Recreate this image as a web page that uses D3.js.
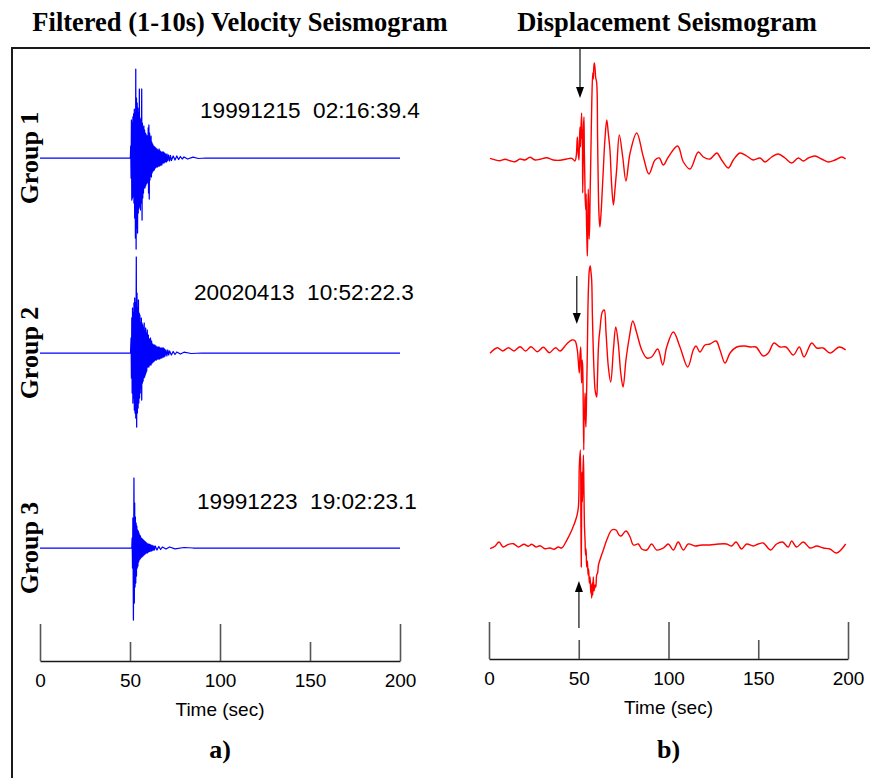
<!DOCTYPE html>
<html>
<head>
<meta charset="utf-8">
<script src="https://cdn.jsdelivr.net/npm/d3@7"></script>
<style>
  body { margin: 0; background: #fff; }
  svg { display: block; }
</style>
</head>
<body>
<svg id="fig" width="870" height="778"></svg>
<script>
// ---------- data ----------
const groupNames = ["Group 1", "Group 2", "Group 3"];
const eventLabels = ["19991215  02:16:39.4", "20020413  10:52:22.3", "19991223  19:02:23.1"];
const timeTicks = [0, 50, 100, 150, 200];
const panelTitles = ["Filtered (1-10s) Velocity Seismogram", "Displacement Seismogram"];
const panelLetters = ["a)", "b)"];
// P arrival picks (sec) on the displacement traces
const pArrival = [50.7, 48.9, 50.1];

// filtered velocity traces: [time (s), relative amplitude]
const velG1 = [
  [0,0],[50.2,0],[50.4,12],[50.6,-20],[50.8,38],[51.0,-42],[51.2,35],[51.4,-40],[51.6,41],[51.8,-38],
  [52.0,44],[52.2,-45],[52.4,49],[52.6,-60],[52.8,45],[53.0,-80],[53.2,89],[53.4,-91],[53.6,60],[53.8,-70],
  [54.0,55],[54.2,-75],[54.4,50],[54.6,-55],[54.8,45],[55.0,-50],[55.2,69],[55.4,-48],[55.6,40],[55.8,-52],
  [56.0,38],[56.2,-45],[56.5,69],[56.7,-62],[56.9,35],[57.1,-40],[57.3,30],[57.5,-35],[57.7,32],[57.9,-30],
  [58.1,28],[58.3,-30],[58.5,25],[58.7,-28],[58.9,24],[59.1,-26],[59.3,22],[59.5,-24],[59.7,22],[59.9,-25],
  [60.1,30],[60.3,-35],[60.5,33],[60.7,-41],[60.9,25],[61.1,-22],[61.3,20],[61.5,-18],[61.7,22],[61.9,-19],
  [62.1,16],[62.3,-15],[62.6,14],[62.9,-13],[63.2,12],[63.5,-12],[63.8,11],[64.1,-10],[64.4,10],[64.7,-9],
  [65.0,9],[65.3,-9],[65.6,8],[65.9,-8],[66.2,9],[66.5,-8],[66.8,7],[67.1,-7],[67.4,6],[67.7,-7],
  [68.0,6],[68.3,-5],[68.6,6],[68.9,-5],[69.2,5],[69.5,-4],[69.8,4],[70.2,-4],[70.6,4],[71.0,-3],
  [71.5,3],[72.0,-3],[72.5,2.5],[73.0,-2.5],[74,2],[75,-2],[76,2],[77,-1.5],[78,1.5],[79,-1],
  [80,1],[82,-1],[85,0.8],[88,-0.5],[92,0],[200,0]
];
const velG2 = [
  [0,0],[50.3,0],[50.6,15],[50.8,-25],[51.0,35],[51.2,-40],[51.4,45],[51.6,-50],[51.8,40],[52.0,-45],
  [52.2,50],[52.4,-57],[52.6,55],[52.8,-60],[53.0,50],[53.2,-65],[53.5,96],[53.7,-74],[53.9,60],[54.1,-60],
  [54.3,45],[54.5,-55],[54.7,53],[54.9,-50],[55.1,40],[55.3,-45],[55.5,38],[55.7,-40],[55.9,30],[56.1,-35],
  [56.3,35],[56.5,-47],[56.7,30],[56.9,-30],[57.1,28],[57.3,-28],[57.5,25],[57.7,-25],[57.9,30],[58.1,-24],
  [58.3,22],[58.5,-22],[58.7,25],[58.9,-20],[59.1,20],[59.3,-18],[59.6,23],[59.9,-14],[60.2,18],[60.5,-14],
  [60.8,14],[61.1,-12],[61.4,15],[61.7,-12],[62.0,12],[62.3,-10],[62.6,9],[62.9,-9],[63.2,8],[63.5,-8],
  [63.8,8],[64.1,-7],[64.4,7],[64.7,-7],[65.0,6],[65.3,-6],[65.6,6],[65.9,-6],[66.2,6],[66.5,-6],
  [66.8,5],[67.1,-5],[67.4,5],[67.7,-5],[68.0,5],[68.3,-4],[68.6,5],[68.9,-4],[69.2,4],[69.5,-3],
  [70.0,3],[70.5,-3],[71.0,3],[71.5,-2],[72,2],[73,-2],[74,1.5],[75,-1.5],[76,1],[78,-1],
  [80,0.8],[84,-0.5],[90,0],[200,0]
];
const velG3 = [
  [0,0],[51.0,0],[51.2,10],[51.4,-20],[51.6,30],[51.9,-72],[52.2,70],[52.4,-55],[52.6,45],[52.8,-39],
  [53.0,31],[53.2,-35],[53.4,25],[53.6,-28],[53.8,22],[54.0,-20],[54.2,18],[54.4,-18],[54.6,17],[54.8,-14],
  [55.0,15],[55.2,-12],[55.4,13],[55.6,-11],[55.8,12],[56.0,-10],[56.3,10],[56.6,-9],[56.9,9],[57.2,-8],
  [57.5,8],[57.8,-7],[58.1,7],[58.4,-6],[58.7,6],[59.0,-5],[59.3,5],[59.6,-5],[59.9,4],[60.2,-4],
  [60.5,4],[60.8,-3.5],[61.1,3.5],[61.4,-3],[61.7,3],[62.0,-3],[62.4,2.5],[62.8,-2.5],[63.2,2],[63.6,-2],
  [64,2],[65,-2],[66,1.5],[67,-1.5],[68,1],[70,-1],[72,1],[75,-0.8],[80,0.5],[85,0],[200,0]
];

// displacement traces: [time (s), relative amplitude]
const dispG1 = [
  [0.6,0.7],[6.1,-1.7],[8.9,-0.3],[11.7,-1.7],[14.5,-2.7],[17.3,0],[20.1,-1],[22.8,1.7],[25.6,-1],[28.4,-0.3],
  [32.1,1.3],[35.8,-1],[39.6,-1.3],[43.3,0],[46.1,0.7],[47.9,-2],[48.6,3],[49.2,22],[49.6,8],[50.1,-1],
  [50.4,18],[50.7,32],[51.0,12],[51.2,28],[51.6,46],[51.8,20],[52.0,30],[52.2,-34],[52.4,-10],[52.6,30],
  [52.9,42],[53.1,10],[53.4,-20],[53.6,-40],[53.9,-51],[54.1,-35],[54.3,-60],[54.6,-85],[54.8,-97],[55.0,-70],
  [55.3,-30],[55.6,-60],[55.8,-80],[56.1,-65],[56.3,-40],[56.8,10],[57.3,60],[57.8,86],[58.1,80],[58.4,92],
  [58.7,96],[59.1,90],[59.4,82],[60.0,76],[60.5,20],[61.0,-40],[61.4,-60],[61.8,-68],[62.4,-55],[63.0,-35],
  [63.7,-10],[64.6,20],[65.6,39],[66.5,25],[67.4,9],[68.3,-25],[69.3,-46],[70.2,-30],[71.1,-11],[72.6,24],
  [74.5,2],[76.3,-22],[78.6,6],[82.3,26],[86.0,2],[89.1,-15],[92.5,-1],[94.9,1],[97.1,-6],[99.9,2],
  [105.1,13],[108.3,-3],[112.0,-10],[116.6,7],[119.4,2],[123.1,0],[126.9,6],[129.6,-1],[133.3,-9],[136.1,-1],
  [139.8,6],[143.6,3],[147.2,-1],[151.0,1],[153.8,-3],[157.5,2],[161.2,5],[164.9,1],[168.6,-4],[172.3,1],
  [175.1,-2],[177.9,1],[181.6,3],[185.3,0],[189.0,-3],[192.8,-1],[196.5,2],[198.7,0]
];
const dispG2 = [
  [0.6,-3.3],[4.6,2.3],[7.6,-1],[10.8,2.3],[13.9,-1],[17.3,3.3],[20.4,-1],[23.4,3.3],[26.9,-1.7],[30.3,2.7],
  [33.6,-2.7],[37.1,2.3],[39.6,-1],[43.3,6],[46.1,10],[47.9,9.3],[49.2,0],[49.7,-10],[50.3,-23],[50.7,-5],
  [51.1,3],[51.4,-20],[51.6,-33],[51.9,-10],[52.2,-17],[52.5,-55],[52.8,-100],[53.0,-60],[53.2,-70],[53.5,-43],
  [53.8,-70],[54.0,-77],[54.4,-40],[54.8,0],[55.1,40],[55.5,67],[55.9,80],[56.4,84],[56.8,78],[57.2,70],
  [57.6,35],[58.1,0],[58.6,-25],[59.1,-40],[59.5,-44],[60.0,-47],[60.4,-30],[60.9,0],[61.3,12],[61.8,20],
  [63.1,38],[64.2,40],[65.2,17],[66.5,-17],[67.8,-32],[69.3,0],[70.6,23],[72.0,7],[73.4,-23],[74.7,-37],
  [76.3,-10],[78.2,13],[80.1,29],[82.3,17],[85.1,0],[87.9,-8],[90.6,-7],[94.0,1],[96.8,-15],[99.0,3],
  [102.7,18],[106.4,3],[110.7,-17],[113.8,0],[115.3,4],[117.5,-2],[120.3,5],[123.1,6],[126.5,9],[128.7,0],
  [131.5,-13],[134.3,-3],[138.0,3],[142.6,4],[145.4,3],[148.7,3],[152.8,-6],[155.6,-3],[158.8,7],[162.1,3],
  [165.5,3],[169.5,-5],[172.9,3],[175.5,-7],[179.8,7],[182.6,2],[186.2,2],[190.0,-3],[195.2,3],[198.7,0]
];
const dispG3 = [
  [0.6,-1.7],[3.3,0.7],[5.6,5],[7.9,0],[10.8,2.7],[13.6,3.3],[16.3,0],[19.5,2.7],[21.9,0.7],[23.8,2.7],
  [26.2,0],[28.4,1.3],[31.2,-1.7],[34.0,-1],[36.2,-2.3],[38.6,0],[40.5,-1],[43.3,6.7],[46.1,16.7],[48.8,30],
  [49.8,40],[50.3,80],[50.9,97],[51.2,30],[51.4,-20],[51.6,40],[51.8,75],[52.0,45],[52.2,60],[52.6,92],
  [52.9,55],[53.2,20],[53.5,7],[53.8,-8],[54.1,-2],[54.4,-20],[54.8,-14],[55.2,-28],[55.5,-22],[55.9,-36],
  [56.3,-30],[56.7,-46],[57.0,-38],[57.2,-51],[57.5,-36],[57.8,-48],[58.1,-30],[58.5,-44],[59.1,-38],[59.5,-40],
  [60.0,-28],[60.5,-26],[61.0,-18],[61.8,-13],[62.7,-8],[63.7,-3],[65.6,7],[68.4,17],[70.8,17],[72.4,12],
  [73.6,11],[76.3,16],[78.6,10],[80.4,2],[83.2,3],[85.1,-2],[87.9,-3],[90.6,3],[93.4,-3],[97.1,-1],
  [99.9,3],[102.7,-3],[105.4,5],[108.3,-3],[111.0,3],[114.8,1],[118.5,2],[123.1,2],[127.8,3],[132.4,3],
  [135.2,1],[137.6,5],[140.7,-2],[143.5,3],[147.2,1],[150.0,3],[152.8,4],[156.9,-3],[160.2,3],[163.5,5],
  [166.7,0],[168.6,6],[171.3,0],[175.1,5],[178.8,-1],[182.6,1],[186.2,-1],[189.9,-2],[193.7,-6],[198.7,3]
];

// ---------- drawing ----------
const svg = d3.select("#fig");
const SERIF = "'Liberation Serif','Times New Roman',Times,serif";
const SANS = "'Liberation Sans',Arial,Helvetica,sans-serif";

// outer frame (top and left rules)
svg.append("path")
  .attr("d", "M12,778V48H870")
  .attr("fill", "none")
  .attr("stroke", "#1a1a1a")
  .attr("stroke-width", 2);

const panels = [
  {
    x: d3.scaleLinear().domain([0, 200]).range([40, 400]),
    baselines: [158, 353, 548],
    series: [velG1, velG2, velG3],
    color: "#0000ff", width: 1.25, curve: d3.curveLinear,
    axisY: 661, titleX: 240, labelBaseline: 716
  },
  {
    x: d3.scaleLinear().domain([0, 200]).range([489, 848]),
    baselines: [159, 350, 547],
    series: [dispG1, dispG2, dispG3],
    color: "#ff0000", width: 1.4, curve: d3.curveCatmullRom.alpha(0.5),
    axisY: 659, titleX: 667, labelBaseline: 714
  }
];

panels.forEach((p, pi) => {
  const g = svg.append("g");

  // panel title
  svg.append("text")
    .attr("x", p.titleX).attr("y", 31)
    .attr("text-anchor", "middle")
    .attr("font-family", SERIF).attr("font-weight", "bold").attr("font-size", 26.5)
    .text(panelTitles[pi]);

  // traces
  p.series.forEach((data, i) => {
    const y = d3.scaleLinear().domain([-100, 100]).range([p.baselines[i] + 100, p.baselines[i] - 100]);
    const line = d3.line().x(d => p.x(d[0])).y(d => y(d[1])).curve(p.curve);
    g.append("path")
      .datum(data)
      .attr("d", line)
      .attr("fill", "none")
      .attr("stroke", p.color)
      .attr("stroke-width", p.width)
      .attr("stroke-linejoin", "round");
  });

  // time axis with ticks pointing up
  const axis = d3.axisBottom(p.x).tickValues(timeTicks).tickSizeOuter(0).tickSizeInner(0).tickPadding(0);
  const ag = svg.append("g").attr("transform", `translate(0,${p.axisY})`).call(axis);
  ag.select(".domain").attr("stroke", "#1a1a1a").attr("stroke-width", 1.6);
  ag.selectAll(".tick line")
    .attr("y2", d => (d % 100 === 0 ? -37 : -19))
    .attr("stroke", "#555")
    .attr("stroke-width", 1.6);
  ag.selectAll(".tick text")
    .attr("y", 26).attr("dy", 0)
    .attr("font-family", SANS).attr("font-size", 19).attr("fill", "#000");

  svg.append("text")
    .attr("x", (p.x.range()[0] + p.x.range()[1]) / 2).attr("y", p.labelBaseline)
    .attr("text-anchor", "middle")
    .attr("font-family", SANS).attr("font-size", 19)
    .text("Time (sec)");

  svg.append("text")
    .attr("x", (p.x.range()[0] + p.x.range()[1]) / 2).attr("y", 758)
    .attr("text-anchor", "middle")
    .attr("font-family", SERIF).attr("font-weight", "bold").attr("font-size", 26)
    .text(panelLetters[pi]);
});

// group labels on the left
groupNames.forEach((name, i) => {
  svg.append("text")
    .attr("transform", `translate(38,${panels[0].baselines[i]}) rotate(-90)`)
    .attr("text-anchor", "middle")
    .attr("font-family", SERIF).attr("font-weight", "bold").attr("font-size", 26)
    .text(name);
});

// event date/time labels
const labelPos = [[200, 118], [194, 300], [197, 509]];
eventLabels.forEach((s, i) => {
  svg.append("text")
    .attr("x", labelPos[i][0]).attr("y", labelPos[i][1])
    .attr("font-family", SANS).attr("font-size", 22.6)
    .style("white-space", "pre")
    .text(s);
});

// P-arrival arrows on displacement traces: [start y, tip y]
const arrowSpans = [[48, 98], [276, 324], [628, 581]];
pArrival.forEach((t, i) => {
  const x = panels[1].x(t);
  const [y0, y1] = arrowSpans[i];
  const dir = y1 > y0 ? 1 : -1;
  svg.append("line")
    .attr("x1", x).attr("x2", x).attr("y1", y0).attr("y2", y1 - dir * 8)
    .attr("stroke", "#222").attr("stroke-width", 1.3);
  svg.append("path")
    .attr("d", `M${x},${y1}L${x - 4},${y1 - dir * 11}L${x + 4},${y1 - dir * 11}Z`)
    .attr("fill", "#000");
});
</script>
</body>
</html>
